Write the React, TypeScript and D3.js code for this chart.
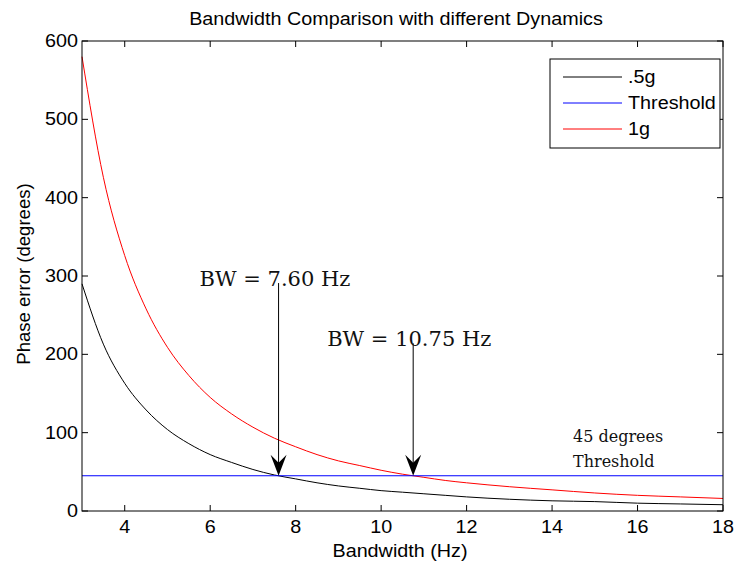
import React from "react";
import * as d3 from "d3";

// bandwidth samples (Hz) and phase error (degrees)
const bandwidth = [3, 3.5, 4, 4.5, 5, 5.5, 6, 6.5, 7, 7.5, 8, 8.5, 9, 9.5, 10, 10.5, 11, 11.5, 12, 13, 14, 15, 16, 17, 18];
const halfG = [290, 213, 163, 129, 104, 86, 72, 62, 53, 46, 41, 36, 32, 29, 26, 24, 22, 20, 18, 15, 13, 12, 10, 9, 8];
const oneG = [580, 426, 326, 258, 209, 173, 145, 124, 107, 93, 82, 72, 64, 58, 52, 47, 43, 39, 36, 31, 27, 23, 20, 18, 16];
const threshold = 45;
const xTicks = [4, 6, 8, 10, 12, 14, 16, 18];
const yTicks = [0, 100, 200, 300, 400, 500, 600];
const crossings = [
  { bw: 7.6, label: "BW = 7.60 Hz", top: 291, dx: -79 },
  { bw: 10.75, label: "BW = 10.75 Hz", top: 214, dx: -86 },
];
const legendItems = [
  { name: ".5g", color: "#000000" },
  { name: "Threshold", color: "#0000ff" },
  { name: "1g", color: "#ff0000" },
];

const W = 737, H = 564;
const margin = { top: 41, right: 14, bottom: 53, left: 82 };
const sans = "Liberation Sans, Arial, Helvetica, sans-serif";
const serif = "DejaVu Serif, Liberation Serif, serif";

// MATLAB's Helvetica renders a bit wide, so stretch the sans text horizontally
function Label(props: { x: number; y: number; anchor?: string; rotate?: number; sx?: number; children: React.ReactNode }) {
  const { x, y, anchor = "start", rotate = 0, sx = 1.13, children } = props;
  return (
    <text
      transform={`translate(${x},${y}) rotate(${rotate}) scale(${sx},1)`}
      textAnchor={anchor}
      fontFamily={sans}
      fontSize={17.5}
    >
      {children}
    </text>
  );
}

export default function App() {
  const x = d3.scaleLinear().domain([3, 18]).range([margin.left, W - margin.right]);
  const y = d3.scaleLinear().domain([0, 600]).range([H - margin.bottom, margin.top]);
  const x0 = x.range()[0], x1 = x.range()[1];
  const y0 = y.range()[0], y1 = y.range()[1];

  const line = d3
    .line<number>()
    .x((_, i) => x(bandwidth[i]))
    .y((d) => y(d))
    .curve(d3.curveMonotoneX);

  const tick = 6;

  return (
    <svg width={W} height={H} style={{ position: "absolute", left: 0, top: 0, background: "#fff" }}>
      <Label x={396} y={25} anchor="middle">
        Bandwidth Comparison with different Dynamics
      </Label>

      {/* curves */}
      <path d={line(halfG) || ""} fill="none" stroke="#000" strokeWidth={1} />
      <path d={line(oneG) || ""} fill="none" stroke="#ff0000" strokeWidth={1} />
      <line x1={x0} x2={x1} y1={y(threshold)} y2={y(threshold)} stroke="#0000ff" strokeWidth={1} />

      {/* axes box + ticks */}
      <rect x={x0} y={y1} width={x1 - x0} height={y0 - y1} fill="none" stroke="#000" strokeWidth={1} />
      {xTicks.map((t) => (
        <g key={"x" + t}>
          <line x1={x(t)} x2={x(t)} y1={y0} y2={y0 - tick} stroke="#000" />
          <line x1={x(t)} x2={x(t)} y1={y1} y2={y1 + tick} stroke="#000" />
          <Label x={x(t)} y={y0 + 22} anchor="middle">
            {t}
          </Label>
        </g>
      ))}
      {yTicks.map((t) => (
        <g key={"y" + t}>
          <line x1={x0} x2={x0 + tick} y1={y(t)} y2={y(t)} stroke="#000" />
          <line x1={x1} x2={x1 - tick} y1={y(t)} y2={y(t)} stroke="#000" />
          <Label x={x0 - 4} y={y(t) + 6} anchor="end">
            {t}
          </Label>
        </g>
      ))}
      <Label x={400} y={y0 + 46} anchor="middle">
        Bandwidth (Hz)
      </Label>
      <Label x={30} y={274} anchor="middle" rotate={-90} sx={1.06}>
        Phase error (degrees)
      </Label>

      {/* annotations */}
      {crossings.map((c) => {
        const cx = x(c.bw);
        const tipY = y(threshold);
        return (
          <g key={c.label}>
            <line x1={cx} x2={cx} y1={y(c.top)} y2={tipY - 10} stroke="#000" strokeWidth={1} />
            <path
              d={`M${cx},${tipY} L${cx - 8},${tipY - 21} L${cx},${tipY - 13} L${cx + 8},${tipY - 21} Z`}
              fill="#000"
            />
            <text x={cx + c.dx} y={y(c.top) + 3} fontFamily={serif} fontSize={21} fill="#111">
              {c.label}
            </text>
          </g>
        );
      })}
      <text x={573} y={442} fontFamily={serif} fontSize={16} fill="#111">45 degrees</text>
      <text x={573} y={467} fontFamily={serif} fontSize={16} fill="#111">Threshold</text>

      {/* legend */}
      <g transform="translate(550, 59)">
        <rect width={170} height={89} fill="#fff" stroke="#000" strokeWidth={1} />
        {legendItems.map((d, i) => (
          <g key={d.name} transform={`translate(0, ${18 + i * 26})`}>
            <line x1={13} x2={72} y1={0} y2={0} stroke={d.color} strokeWidth={1} />
            <Label x={78} y={6}>
              {d.name}
            </Label>
          </g>
        ))}
      </g>
    </svg>
  );
}
